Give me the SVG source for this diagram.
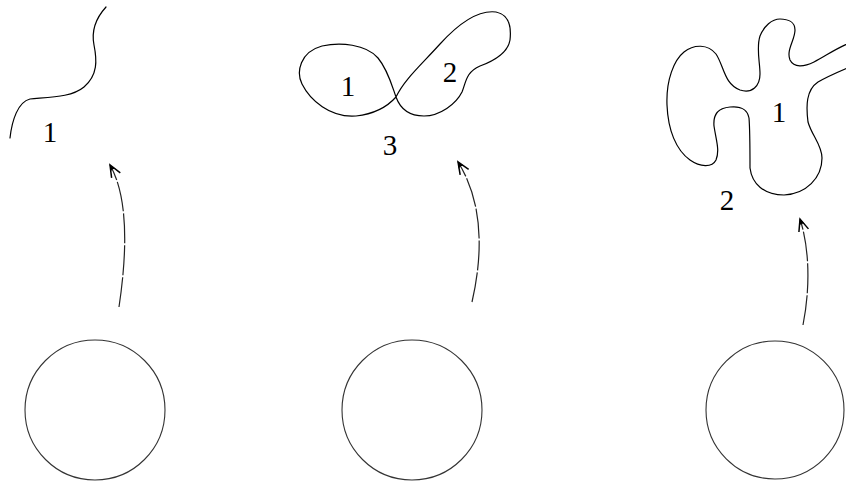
<svg xmlns="http://www.w3.org/2000/svg" width="846" height="484" viewBox="0 0 846 484">
<style>
.curve{fill:none;stroke:#000;stroke-width:1.2;stroke-linecap:round;stroke-linejoin:round}
.circ{fill:none;stroke:#333;stroke-width:1.1}
.conn{fill:none;stroke:#222;stroke-width:1.2;stroke-dasharray:30 2}
.lbl{font-family:"Liberation Serif",serif;font-size:29px;fill:#000;text-anchor:middle}
</style>
<defs>
<marker id="ah" markerUnits="userSpaceOnUse" markerWidth="20" markerHeight="20" refX="0" refY="0" viewBox="-14 -10 20 20" orient="auto">
<path d="M-12,-5 L0,0 L-12,5" fill="none" stroke="#000" stroke-width="1.5"/>
<path d="M0,0 L-6,-3 L-5,0 L-6,3 Z" fill="#000"/>
</marker>
</defs>
<g id="circle-left"><circle class="circ" cx="95" cy="410" r="70"/></g>
<g id="circle-mid"><circle class="circ" cx="412" cy="410" r="70"/></g>
<g id="circle-right"><circle class="circ" cx="775" cy="410" r="69"/></g>
<g id="shape-left">
<path class="curve" d="M106,7 C96,18 91,30 94,45 C97,60 98,75 84,87 C72,97 52,97 30,99 C18,102 12,120 10,138"/>
<text class="lbl" x="50" y="142">1</text>
</g>
<g id="shape-mid">
<path class="curve" d="M396,97 C404,80 420,66 440,44 C460,22 480,10 496,12 C506,14 512,22 510,40 C508,52 496,60 480,66 C466,72 466,82 462,92 C456,104 440,116 424,116 C408,116 400,108 396,97 C392,86 388,70 378,58 C366,44 340,42 322,46 C300,52 296,72 302,84 C310,100 330,118 356,116 C374,114 388,106 396,97 Z"/>
<text class="lbl" x="348" y="96">1</text>
<text class="lbl" x="450" y="82">2</text>
<text class="lbl" x="390" y="155">3</text>
</g>
<g id="shape-right">
<path class="curve" d="M780,19 C788,19 795,22 795,30 C795,40 786,50 790,60 C794,68 804,67 814,62 C826,56 836,48 852,42 L852,66 C838,72 828,76 818,82 C806,90 806,106 808,122 C812,136 822,145 822,158 C822,178 806,194 784,195 C764,195 752,184 750,168 C750,150 750,130 749,118 C747,108 740,106 730,107 C718,108 713,114 714,126 C716,140 720,150 716,160 C712,168 700,167 690,160 C676,150 668,130 667,105 C666,80 674,60 684,52 C694,44 708,44 716,54 C724,66 724,84 740,90 C752,94 760,86 760,74 C760,62 756,48 760,36 C764,26 772,19 780,19 Z"/>
<text class="lbl" x="779" y="122">1</text>
<text class="lbl" x="727" y="210">2</text>
</g>
<g id="connectors">
<path class="conn" d="M119,307 C126,260 130,200 110,165" marker-end="url(#ah)"/>
<path class="conn" d="M472,302 C484,250 482,200 458,162" marker-end="url(#ah)"/>
<path class="conn" d="M803,325 C810,290 810,250 800,219" marker-end="url(#ah)"/>
</g>
</svg>
